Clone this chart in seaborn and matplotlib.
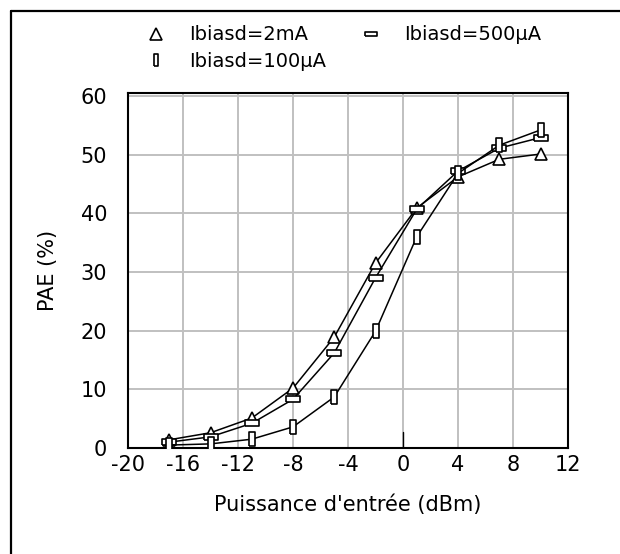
import matplotlib
matplotlib.use("Agg")
import matplotlib.pyplot as plt
from matplotlib.lines import Line2D
import seaborn as sns
import pandas as pd

# input power (dBm)
pin = [-17, -14, -11, -8, -5, -2, 1, 4, 7, 10]
# PAE (%) for each drain bias current
pae_2mA = [1.4, 2.6, 5.1, 10.2, 18.9, 31.5, 40.9, 46.2, 49.2, 50.1]
pae_500uA = [1.0, 1.9, 4.2, 8.3, 16.2, 29.0, 40.7, 47.2, 51.1, 52.9]
pae_100uA = [0.5, 0.7, 1.5, 3.6, 8.7, 19.9, 36.0, 46.8, 51.6, 54.2]
labels = ["Ibiasd=2mA", "Ibiasd=500µA", "Ibiasd=100µA"]

df = pd.concat([
    pd.DataFrame({"pin": pin, "pae": pae_2mA, "serie": labels[0]}),
    pd.DataFrame({"pin": pin, "pae": pae_500uA, "serie": labels[1]}),
    pd.DataFrame({"pin": pin, "pae": pae_100uA, "serie": labels[2]}),
])

# marker shapes: triangle, flat box, tall box
hrect = [(-1, -0.38), (1, -0.38), (1, 0.38), (-1, 0.38), (-1, -0.38)]
vrect = [(-0.38, -1), (0.38, -1), (0.38, 1), (-0.38, 1), (-0.38, -1)]
mk = {labels[0]: "^", labels[1]: hrect, labels[2]: vrect}
msz = {labels[0]: 9, labels[1]: 10, labels[2]: 10}

sns.set_style("white")
plt.rcParams["font.family"] = ["DejaVu Sans"]
plt.rcParams["axes.unicode_minus"] = False
plt.rcParams["text.color"] = "black"
plt.rcParams["axes.labelcolor"] = "black"

fig = plt.figure(figsize=(6.2, 5.54), dpi=100)
ax = fig.add_axes([128 / 620, 1 - 448 / 554, 440 / 620, 355 / 554])

sns.lineplot(data=df, x="pin", y="pae", hue="serie", style="serie",
             markers=mk, dashes=False, palette=["black"] * 3,
             markersize=9.5, markerfacecolor="white", markeredgecolor="black",
             markeredgewidth=1.2, linewidth=1.1, legend=False, ax=ax)
# seaborn uses one size for all; fix marker sizes per series
for line, lab in zip(ax.get_lines(), labels):
    line.set_markersize(msz[lab])
    line.set_zorder(3)

ax.set_xlim(-20, 12)
ax.set_ylim(0, 60.5)
ax.set_xticks(range(-20, 13, 4))
ax.set_yticks(range(0, 61, 10))
ax.grid(True, color="#c0c0c0", linewidth=1.4)
ax.axvline(0, ymin=0, ymax=0.045, color="black", linewidth=1.0)
for s in ax.spines.values():
    s.set_color("black")
    s.set_linewidth(1.5)
ax.tick_params(axis="both", length=0, labelsize=15, colors="black")
ax.tick_params(axis="y", pad=15)
ax.tick_params(axis="x", pad=5)

ax.set_xlabel("Puissance d'entrée (dBm)", fontsize=15)
ax.set_ylabel("PAE (%)", fontsize=15)
ax.xaxis.set_label_coords(0.5, -0.13)
ax.yaxis.set_label_coords(-0.16, 0.5)

handles = []
for lab in [labels[0], labels[2], labels[1]]:
    handles.append(Line2D([], [], linestyle="none", marker=mk[lab],
                          markersize=msz[lab] - 1, markerfacecolor="white",
                          markeredgecolor="black", markeredgewidth=1.2))
fig.legend(handles, [labels[0], labels[2], labels[1]], ncol=2,
           loc="upper left", bbox_to_anchor=(127 / 620, 1 - 8 / 554),
           frameon=False, fontsize=14, handlelength=1.2,
           handletextpad=1.1, columnspacing=1.7, labelspacing=0.4)

# partial outer frame (top and left edges)
fy = 1 - 11 / 554
fx = 11 / 620
fig.add_artist(Line2D([fx, 1], [fy, fy], transform=fig.transFigure,
                      color="black", linewidth=1.6))
fig.add_artist(Line2D([fx, fx], [0, fy], transform=fig.transFigure,
                      color="black", linewidth=1.6))

fig.savefig("out.png", dpi=100)
